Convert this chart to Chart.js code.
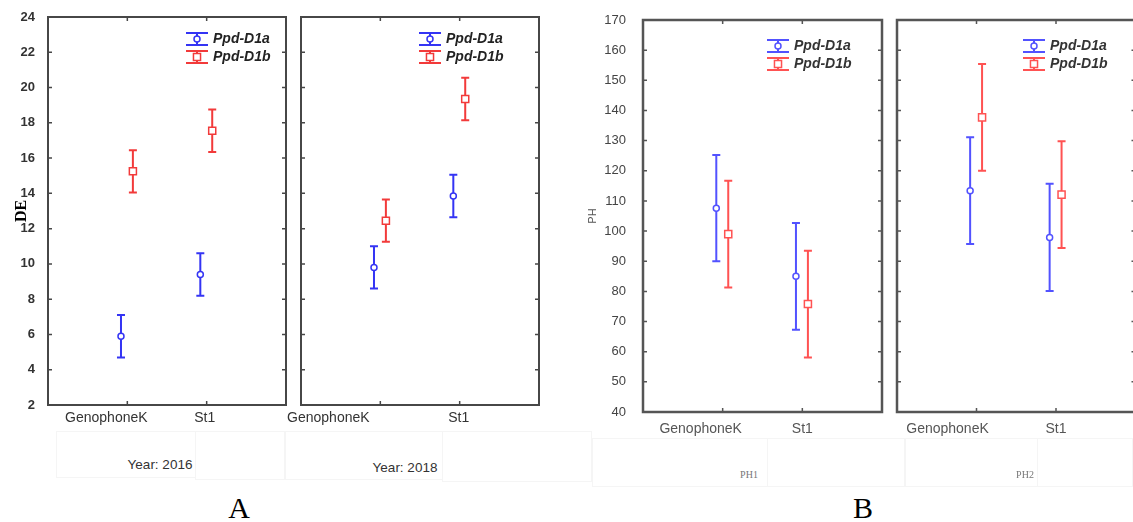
<!DOCTYPE html>
<html>
<head>
<meta charset="utf-8">
<script src="https://cdn.jsdelivr.net/npm/chart.js@4.4.1/dist/chart.umd.min.js"></script>
<style>
body { margin: 0; background: #fff; width: 1133px; height: 522px; position: relative; overflow: hidden; font-family: 'Liberation Sans', Arial, sans-serif; }
canvas { position: absolute; top: 0; }
.lbl { position: absolute; white-space: nowrap; transform: translate(-50%, -50%); }
.cell { position: absolute; border: 1px solid #f5f5f5; box-sizing: border-box; }
</style>
</head>
<body>

<!-- faint table cells under the plots -->
<div class="cell" style="left:56px;top:431px;width:140px;height:47px"></div>
<div class="cell" style="left:195px;top:431px;width:91px;height:49px"></div>
<div class="cell" style="left:284px;top:431px;width:159px;height:49px"></div>
<div class="cell" style="left:442px;top:431px;width:150px;height:51px"></div>
<div class="cell" style="left:592px;top:438px;width:176px;height:49px"></div>
<div class="cell" style="left:767px;top:438px;width:138px;height:49px"></div>
<div class="cell" style="left:905px;top:438px;width:133px;height:49px"></div>
<div class="cell" style="left:1037px;top:438px;width:96px;height:49px"></div>

<canvas id="a1" width="300" height="440" style="left:0px"></canvas>
<canvas id="a2" width="280" height="440" style="left:280px"></canvas>
<canvas id="b1" width="330" height="445" style="left:560px"></canvas>
<canvas id="b2" width="262" height="445" style="left:880px"></canvas>

<div class="lbl" style="left:160px;top:464px;font-size:13.5px;color:#333">Year: 2016</div>
<div class="lbl" style="left:405px;top:467px;font-size:13.5px;color:#333">Year: 2018</div>
<div class="lbl" style="left:749px;top:474px;font-size:10px;color:#777;font-family:'Liberation Serif',serif">PH1</div>
<div class="lbl" style="left:1025px;top:474px;font-size:10px;color:#777;font-family:'Liberation Serif',serif">PH2</div>
<div class="lbl" style="left:239px;top:508px;font-size:30px;color:#000;font-family:'Liberation Serif',serif">A</div>
<div class="lbl" style="left:863px;top:508px;font-size:30px;color:#000;font-family:'Liberation Serif',serif">B</div>

<script>
var categories = ['GenophoneK', 'St1'];
var seriesNames = ['Ppd-D1a', 'Ppd-D1b'];

// DE, year 2016 and 2018 : means and whisker half-widths
var de2016D1a = [5.9, 9.4];
var de2016D1b = [15.25, 17.55];
var de2016ErrD1a = [1.2, 1.2];
var de2016ErrD1b = [1.2, 1.2];
var de2018D1a = [9.8, 13.85];
var de2018D1b = [12.45, 19.35];
var de2018ErrD1a = [1.2, 1.2];
var de2018ErrD1b = [1.2, 1.2];

// PH, PH1 and PH2
var ph1D1a = [107.6, 85.0];
var ph1D1b = [99.0, 75.8];
var ph1ErrD1a = [17.6, 17.7];
var ph1ErrD1b = [17.7, 17.7];
var ph2D1a = [113.4, 97.9];
var ph2D1b = [137.7, 112.1];
var ph2ErrD1a = [17.7, 17.8];
var ph2ErrD1b = [17.7, 17.7];

// y axes: min, max, step
var deAxis = [2, 24, 2];
var phAxis = [40, 170, 10];

// whiskers, frame, inner ticks, x labels and legend
var statBox = {
    id: 'statBox',
    beforeDatasetsDraw: function (chart, args, o) {
        var ctx = chart.ctx, xs = chart.scales.x, ys = chart.scales.y;
        chart.data.datasets.forEach(function (ds) {
            ctx.save();
            ctx.strokeStyle = ds.borderColor;
            ctx.lineWidth = o.barWidth;
            ds.data.forEach(function (p, i) {
                var x = xs.getPixelForValue(p.x);
                var y1 = ys.getPixelForValue(p.y + ds.errors[i]);
                var y2 = ys.getPixelForValue(p.y - ds.errors[i]);
                ctx.beginPath();
                ctx.moveTo(x, y1); ctx.lineTo(x, y2);
                ctx.moveTo(x - 4, y1); ctx.lineTo(x + 4, y1);
                ctx.moveTo(x - 4, y2); ctx.lineTo(x + 4, y2);
                ctx.stroke();
            });
            ctx.restore();
        });
    },
    afterDraw: function (chart, args, o) {
        var ctx = chart.ctx, a = chart.chartArea, xs = chart.scales.x, ys = chart.scales.y;
        ctx.save();
        ctx.strokeStyle = o.frameColor;
        ctx.lineWidth = o.frameWidth;
        ctx.strokeRect(a.left, a.top, a.right - a.left, a.bottom - a.top);
        ctx.lineWidth = 1.5;
        ctx.beginPath();
        ys.ticks.forEach(function (t) {
            var y = ys.getPixelForValue(t.value);
            if (y <= a.top + 2 || y >= a.bottom - 2) return;
            ctx.moveTo(a.left, y); ctx.lineTo(a.left + 4, y);
            ctx.moveTo(a.right, y); ctx.lineTo(a.right - 4, y);
        });
        categories.forEach(function (c, i) {
            var x = xs.getPixelForValue(i + 1);
            ctx.moveTo(x, a.top); ctx.lineTo(x, a.top + 4);
            ctx.moveTo(x, a.bottom); ctx.lineTo(x, a.bottom - 4);
        });
        ctx.stroke();

        // category labels
        ctx.fillStyle = o.labelColor;
        ctx.font = '14px "Liberation Sans", Arial, sans-serif';
        ctx.textAlign = 'center';
        ctx.textBaseline = 'middle';
        categories.forEach(function (c, i) {
            ctx.fillText(c, xs.getPixelForValue(i + 1) + o.labelShift[i], a.bottom + o.labelGap);
        });

        // legend
        chart.data.datasets.forEach(function (ds, i) {
            var x = a.left + o.legendX, y = a.top + o.legendY + i * 18;
            ctx.strokeStyle = ds.borderColor;
            ctx.lineWidth = 2;
            ctx.beginPath();
            ctx.moveTo(x - 11, y - 6); ctx.lineTo(x + 11, y - 6);
            ctx.moveTo(x - 11, y + 6); ctx.lineTo(x + 11, y + 6);
            ctx.moveTo(x, y - 6); ctx.lineTo(x, y + 6);
            ctx.stroke();
            ctx.fillStyle = '#fff';
            ctx.lineWidth = 1.5;
            Chart.helpers.drawPoint(ctx, { pointStyle: ds.pointStyle, radius: ds.pointRadius, borderWidth: 1.5, rotation: 0 }, x, y);
            ctx.fillStyle = o.legendColor;
            ctx.font = 'italic bold 14px "Liberation Sans", Arial, sans-serif';
            ctx.textAlign = 'left';
            ctx.fillText(ds.label, x + 16, y);
        });
        ctx.restore();
    }
};

function series(label, means, errs, color, style, radius, shift) {
    return {
        label: label,
        data: means.map(function (m, i) { return { x: i + 1 + shift, y: m }; }),
        errors: errs,
        borderColor: color,
        backgroundColor: '#fff',
        pointStyle: style,
        pointRadius: radius,
        pointHoverRadius: radius,
        pointBorderWidth: 1.5
    };
}

function makeChart(id, o) {
    new Chart(document.getElementById(id), {
        type: 'scatter',
        data: {
            datasets: [
                series(seriesNames[0], o.a, o.ea, o.blue, 'circle', 3, -0.08),
                series(seriesNames[1], o.b, o.eb, o.red, 'rect', 5, 0.07)
            ]
        },
        options: {
            responsive: false,
            animation: false,
            events: [],
            layout: { padding: o.padding },
            plugins: {
                legend: { display: false },
                tooltip: { enabled: false },
                statBox: o.box
            },
            scales: {
                x: { type: 'linear', min: 0, max: 3, display: false },
                y: {
                    min: o.axis[0], max: o.axis[1],
                    display: o.showY,
                    afterFit: function (s) { s.width = o.yWidth; },
                    grid: { display: false },
                    border: { display: false },
                    ticks: { stepSize: o.axis[2], padding: o.tickPad, color: o.tickColor, font: o.tickFont },
                    title: o.title
                }
            }
        },
        plugins: [statBox]
    });
}

var boxA = { barWidth: 2, frameColor: '#474747', frameWidth: 2, labelColor: '#333', legendColor: '#222', labelGap: 13, legendY: 22 };
var boxB = { barWidth: 2, frameColor: '#555', frameWidth: 2.5, labelColor: '#555', legendColor: '#333', labelGap: 17, legendY: 26 };

makeChart('a1', {
    a: de2016D1a, b: de2016D1b, ea: de2016ErrD1a, eb: de2016ErrD1b,
    blue: '#3434f4', red: '#f23a3a', axis: deAxis, showY: true, yWidth: 36, tickPad: 5,
    tickColor: '#333', tickFont: { family: 'Liberation Sans', size: 13, weight: 'bold' },
    title: { display: true, text: 'DE', padding: 0, color: '#000', font: { family: 'Liberation Serif', size: 16, weight: 'bold' } },
    padding: { left: 12, top: 17, right: 14, bottom: 35 },
    box: Object.assign({ legendX: 149, labelShift: [-21, -2] }, boxA)
});
makeChart('a2', {
    a: de2018D1a, b: de2018D1b, ea: de2018ErrD1a, eb: de2018ErrD1b,
    blue: '#3434f4', red: '#f23a3a', axis: deAxis, showY: false, yWidth: 0, tickPad: 5,
    padding: { left: 21, top: 17, right: 21, bottom: 35 },
    box: Object.assign({ legendX: 129, labelShift: [-52, -1] }, boxA)
});
makeChart('b1', {
    a: ph1D1a, b: ph1D1b, ea: ph1ErrD1a, eb: ph1ErrD1b,
    blue: '#5252ff', red: '#ff5252', axis: phAxis, showY: true, yWidth: 57, tickPad: 9,
    tickColor: '#444', tickFont: { family: 'Liberation Sans', size: 13 },
    title: { display: true, text: 'PH', padding: 0, color: '#555', font: { family: 'Liberation Sans', size: 11 } },
    padding: { left: 26, top: 20, right: 8, bottom: 33 },
    box: Object.assign({ legendX: 135, labelShift: [-22, 0] }, boxB)
});
makeChart('b2', {
    a: ph2D1a, b: ph2D1b, ea: ph2ErrD1a, eb: ph2ErrD1b,
    blue: '#5252ff', red: '#ff5252', axis: phAxis, showY: false, yWidth: 0, tickPad: 9,
    padding: { left: 17, top: 20, right: 6, bottom: 33 },
    box: Object.assign({ legendX: 137, labelShift: [-29, 0] }, boxB)
});
</script>
</body>
</html>
